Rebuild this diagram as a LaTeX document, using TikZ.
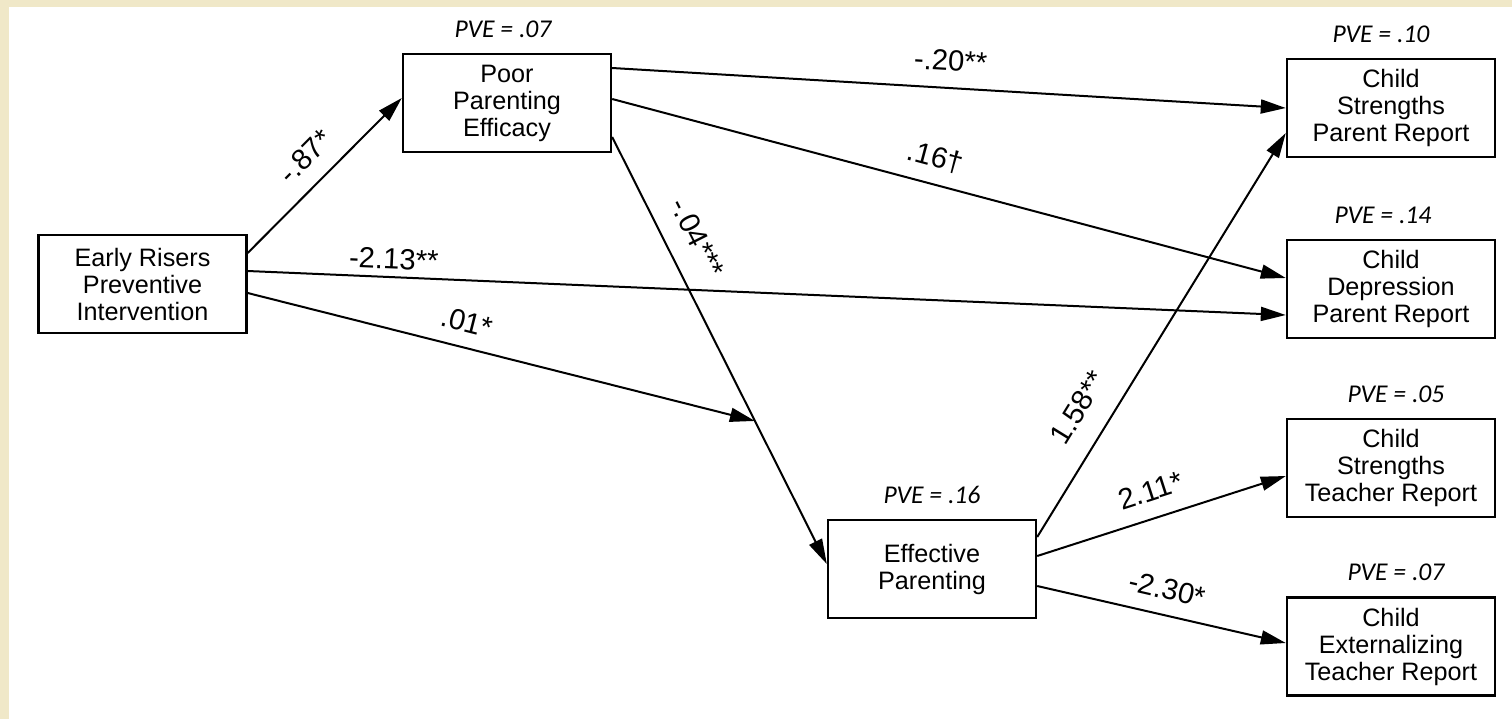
\documentclass[tikz,border=0pt]{standalone}
\usepackage{fontspec}
\setmainfont{Liberation Sans}
\newfontfamily\pvefont{Carlito}
\usetikzlibrary{arrows.meta,positioning,calc}
\definecolor{parchment}{RGB}{240,232,200}

\tikzset{
  box/.style={draw, line width=1.2pt, minimum width=104pt, minimum height=49pt,
    align=center, inner sep=2pt, font=\fontsize{12.6}{13.5}\selectfont},
  pve/.style={inner sep=0pt, text depth=0pt, font=\pvefont\itshape\fontsize{12.8}{12.8}\selectfont},
  arr/.style={line width=1pt, -{Triangle[length=12.5pt,width=7pt]}},
  lab/.style={sloped, inner sep=0pt, text depth=0pt, font=\fontsize{14.6}{14.6}\selectfont},
}

\begin{document}
\begin{tikzpicture}[x=0.5pt,y=-0.5pt]
\fill[parchment] (0,0) rectangle (1512,719);
\fill[white] (9,7) rectangle (1512,719);
\useasboundingbox (0,0) rectangle (1512,719);
% boxes
\node[box] (erpi) at (142.5,284) {Early Risers\\Preventive\\Intervention};
\node[box] (ppe)  at (507,103)   {Poor\\Parenting\\Efficacy};
\node[box] (ep)   at (932,569)   {Effective\\Parenting};
\node[box] (cspr) at (1391,108)  {Child\\Strengths\\Parent Report};
\node[box] (cdpr) at (1391,289)  {Child\\Depression\\Parent Report};
\node[box] (cstr) at (1391,468)  {Child\\Strengths\\Teacher Report};
\node[box] (cetr) at (1391,646.5){Child\\Externalizing\\Teacher Report};
% variance explained
\node[pve, above=7.5pt of ppe,  xshift=-2pt]   (pveppe)  {PVE = .07};
\node[pve, above=7.5pt of ep]                  (pveep)   {PVE = .16};
\node[pve, above=7.5pt of cspr, xshift=-5pt]   (pvecspr) {PVE = .10};
\node[pve, above=7.5pt of cdpr, xshift=-4pt]   (pvecdpr) {PVE = .14};
\node[pve, above=7.5pt of cstr, xshift=2.5pt]  (pvecstr) {PVE = .05};
\node[pve, above=7.5pt of cetr, xshift=2.5pt]  (pvecetr) {PVE = .07};
% paths
\draw[arr] ($(erpi.east)+(0,-31)$) -- node[lab, above=8pt] (l87) {-.87*} ($(ppe.west)+(0,-5)$);
\draw[arr] ($(erpi.east)+(0,-13)$) -- node[lab, above=3.5pt, pos=0.14] (l213) {-2.13**} ($(cdpr.west)+(0,26)$);
\draw[arr] ($(ppe.east)+(0,34)$) -- coordinate[pos=0.665] (meet)
  node[lab, above=10pt, pos=0.268] (l04) {-.04***} ($(ep.west)+(0,-5)$);
\draw[arr] ($(erpi.east)+(0,9)$) -- node[lab, above=7pt, pos=0.42] (l01) {.01*} (meet);
\draw[arr] ($(ppe.east)+(0,-35)$) -- node[lab, above=8pt] (l20) {-.20**} (cspr.west);
\draw[arr] ($(ppe.east)+(0,-4)$) -- node[lab, above=8pt, pos=0.47] (l16) {.16†} ($(cdpr.west)+(0,-11)$);
\draw[arr] ($(ep.east)+(0,-32)$) -- node[lab, above=11pt, pos=0.277] (l158) {1.58**} ($(cspr.west)+(0,25)$);
\draw[arr] ($(ep.east)+(0,-13)$) -- node[lab, above=8pt, pos=0.49] (l211) {2.11*} ($(cstr.west)+(0,8)$);
\draw[arr] ($(ep.east)+(0,17)$) -- node[lab, above=7.5pt] (l230) {-2.30*} ($(cetr.west)+(0,-3.5)$);
\end{tikzpicture}
\end{document}
